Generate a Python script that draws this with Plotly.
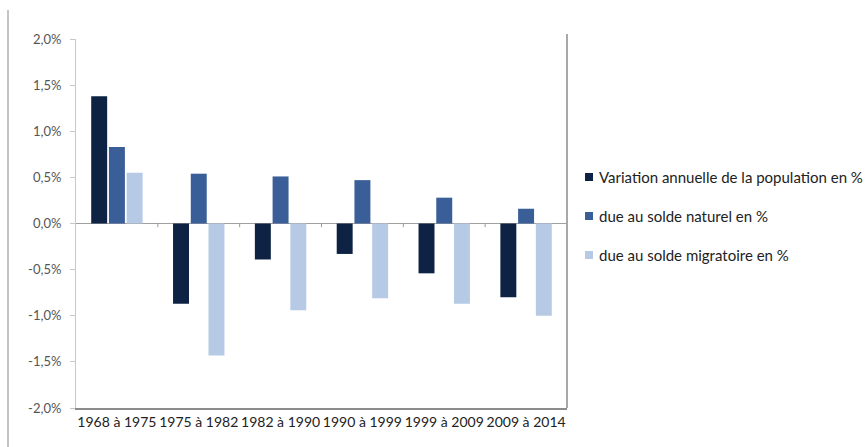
import plotly.graph_objects as go

# Periods on the category axis
periods = ["1968 à 1975", "1975 à 1982", "1982 à 1990", "1990 à 1999", "1999 à 2009", "2009 à 2014"]

# Annual rates, in %
variation_annuelle = [1.38, -0.87, -0.39, -0.33, -0.54, -0.80]
solde_naturel = [0.83, 0.54, 0.51, 0.47, 0.28, 0.16]
solde_migratoire = [0.55, -1.43, -0.94, -0.81, -0.87, -1.00]

series_names = [
    "Variation annuelle de la population en %",
    "due au solde naturel en %",
    "due au solde migratoire en %",
]
series_colors = ["#0e2243", "#3a5e98", "#b7cae5"]

y_ticks = [2.0, 1.5, 1.0, 0.5, 0.0, -0.5, -1.0, -1.5, -2.0]
y_tick_text = ["2,0%", "1,5%", "1,0%", "0,5%", "0,0%", "-0,5%", "-1,0%", "-1,5%", "-2,0%"]

FONT = "Lato"
W, H = 865, 447
ML, MR, MT, MB = 76, 298, 39, 39
PW, PH = W - ML - MR, H - MT - MB


def px_x(px):
    return (px - ML) / PW


def px_y(py):
    return (H - MB - py) / PH


fig = go.Figure()
for name, vals, col in zip(series_names,
                           [variation_annuelle, solde_naturel, solde_migratoire],
                           series_colors):
    fig.add_trace(go.Bar(
        x=periods, y=vals, name=name,
        marker=dict(color=col, line=dict(width=0)),
        showlegend=False,
    ))

shapes = []
annotations = []
# Small tick marks on the zero line between categories
for k in range(len(periods)):
    xb = k + 0.5
    shapes.append(dict(type="line", xref="x", yref="y", x0=xb, x1=xb, y0=0, y1=-0.04,
                       line=dict(color="#9a9a9a", width=1)))
# Plot-area right border
shapes.append(dict(type="line", xref="paper", yref="paper", x0=1, x1=1, y0=0, y1=px_y(34),
                   line=dict(color="#a8a8a8", width=2)))
# Outer frame line on the left
shapes.append(dict(type="line", xref="paper", yref="paper",
                   x0=px_x(8), x1=px_x(8), y0=px_y(447), y1=px_y(10),
                   line=dict(color="#c4c4c4", width=2)))

# Legend on the right: small square swatch + label
legend_rows = [177, 216, 255]
for name, col, ry in zip(series_names, series_colors, legend_rows):
    shapes.append(dict(type="rect", xref="paper", yref="paper",
                       x0=px_x(585), x1=px_x(593), y0=px_y(ry + 4), y1=px_y(ry - 4),
                       fillcolor=col, line=dict(width=0)))
    annotations.append(dict(xref="paper", yref="paper", x=px_x(597), y=px_y(ry),
                            xanchor="left", yanchor="middle", text=name, showarrow=False,
                            font=dict(family=FONT, size=15, color="#222222")))

fig.update_layout(
    width=W, height=H,
    margin=dict(l=ML, r=MR, t=MT, b=MB),
    paper_bgcolor="white", plot_bgcolor="white",
    barmode="group", bargap=0.35, bargroupgap=0.1,
    font=dict(family=FONT, size=12, color="#333333"),
    showlegend=False,
    shapes=shapes,
    annotations=annotations,
)

fig.update_xaxes(
    type="category", range=[-0.5, len(periods) - 0.5],
    showline=True, linecolor="#8c8c8c", linewidth=2,
    ticks="", showgrid=False,
    tickfont=dict(family=FONT, size=14, color="#222222"),
)
fig.update_yaxes(
    range=[-2.0, 2.0], tickvals=y_ticks, ticktext=y_tick_text,
    showline=True, linecolor="#c8c8c8", linewidth=1,
    ticks="outside", ticklen=5, tickcolor="#c8c8c8",
    showgrid=False,
    zeroline=True, zerolinecolor="#a0a0a0", zerolinewidth=1,
    tickfont=dict(family=FONT, size=13, color="#555555"),
    ticklabelstandoff=6,
)

fig.write_html("out.html")
